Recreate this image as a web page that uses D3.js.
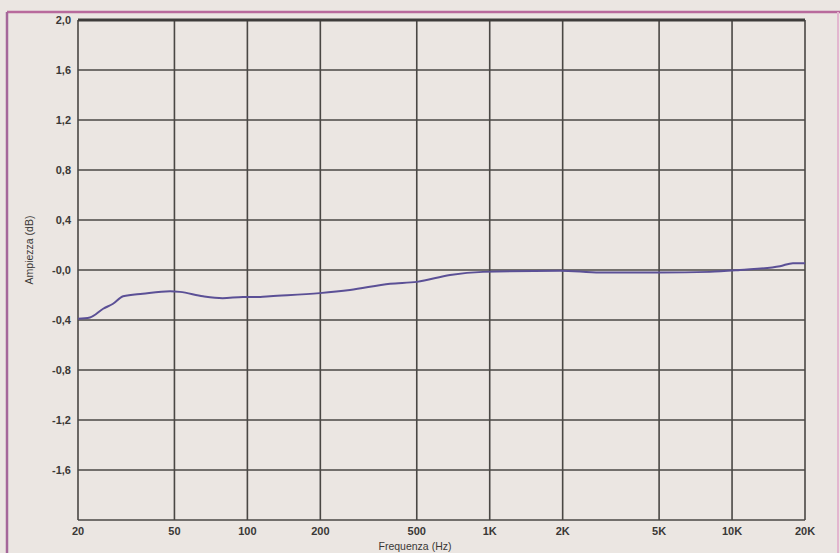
<!DOCTYPE html>
<html>
<head>
<meta charset="utf-8">
<script src="https://cdn.jsdelivr.net/npm/d3@7"></script>
<style>
  html, body { margin: 0; padding: 0; background: #ebe6e2; }
  svg { display: block; }
  text { font-family: "Liberation Sans", Arial, sans-serif; }
</style>
</head>
<body>
<svg id="chart" width="840" height="553"></svg>
<script>
// Data (frequency in Hz, amplitude in dB)
const freqs = [20, 22.4, 25.4, 27.9, 30.7, 37, 48, 52.7, 65.6, 79, 96, 113, 124, 199, 265, 388, 501, 686, 938, 1950, 2850, 5040, 8110, 10780, 15770, 17830, 20000];
const ampl  = [-0.39, -0.38, -0.31, -0.27, -0.21, -0.19, -0.17, -0.175, -0.21, -0.225, -0.215, -0.215, -0.21, -0.185, -0.16, -0.11, -0.095, -0.04, -0.015, -0.005, -0.02, -0.02, -0.015, 0, 0.03, 0.055, 0.055];
const xTicks = [20, 50, 100, 200, 500, 1000, 2000, 5000, 10000, 20000];
const xTickLabels = ["20", "50", "100", "200", "500", "1K", "2K", "5K", "10K", "20K"];
const yTicks = [2.0, 1.6, 1.2, 0.8, 0.4, 0, -0.4, -0.8, -1.2, -1.6, -2.0];
const yTickLabels = ["2,0", "1,6", "1,2", "0,8", "0,4", "-0,0", "-0,4", "-0,8", "-1,2", "-1,6", ""];

const svg = d3.select("#chart");
const L = 78, R = 805, T = 20, B = 520;

// pink outer frame
svg.append("line").attr("x1", 7).attr("x2", 840).attr("y1", 12).attr("y2", 12)
  .attr("stroke", "#b86a9c").attr("stroke-width", 2.5);
svg.append("line").attr("x1", 7).attr("x2", 7).attr("y1", 12).attr("y2", 553)
  .attr("stroke", "#a5679a").attr("stroke-width", 2.5);
svg.append("line").attr("x1", 838).attr("x2", 838).attr("y1", 12).attr("y2", 553)
  .attr("stroke", "#e3b6cf").attr("stroke-width", 2);

const x = d3.scaleLog().domain([20, 20000]).range([L, R]);
const y = d3.scaleLinear().domain([-2, 2]).range([B, T]);

const grid = svg.append("g");
// vertical grid
grid.selectAll("line.v").data(xTicks).enter().append("line")
  .attr("x1", d => x(d)).attr("x2", d => x(d))
  .attr("y1", T).attr("y2", B)
  .attr("stroke", "#4a4744").attr("stroke-width", 1.6);
// horizontal grid
grid.selectAll("line.h").data(yTicks).enter().append("line")
  .attr("x1", L).attr("x2", R)
  .attr("y1", d => y(d)).attr("y2", d => y(d))
  .attr("stroke", "#4a4744").attr("stroke-width", 1.6);
// thicker top frame
svg.append("line").attr("x1", L).attr("x2", R).attr("y1", T).attr("y2", T)
  .attr("stroke", "#3e3c3a").attr("stroke-width", 3);

// y labels
svg.selectAll("text.yl").data(yTicks).enter().append("text")
  .attr("x", 71).attr("y", d => y(d) + 4)
  .attr("text-anchor", "end")
  .attr("font-size", 11).attr("font-weight", "bold").attr("fill", "#3a3836")
  .text((d, i) => yTickLabels[i]);

// x labels
svg.selectAll("text.xl").data(xTicks).enter().append("text")
  .attr("x", d => x(d)).attr("y", 535)
  .attr("text-anchor", "middle")
  .attr("font-size", 11).attr("font-weight", "bold").attr("fill", "#3a3836")
  .text((d, i) => xTickLabels[i]);

// axis titles
svg.append("text").attr("x", 415).attr("y", 550).attr("text-anchor", "middle")
  .attr("font-size", 10.5).attr("fill", "#3a3836").text("Frequenza (Hz)");
svg.append("text").attr("transform", "translate(33,250) rotate(-90)")
  .attr("text-anchor", "middle").attr("font-size", 10.5).attr("fill", "#3a3836")
  .text("Ampiezza (dB)");

// curve
const line = d3.line().x((d, i) => x(freqs[i])).y(d => y(d)).curve(d3.curveMonotoneX);
svg.append("path").datum(ampl).attr("d", line)
  .attr("fill", "none").attr("stroke", "#5b5096").attr("stroke-width", 2);
</script>
</body>
</html>
